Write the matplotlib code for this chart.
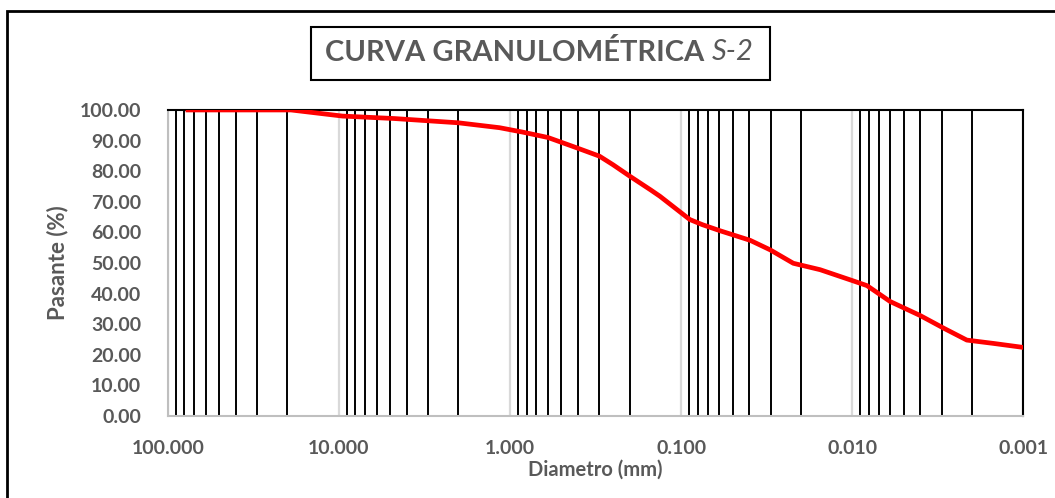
import numpy as np
import matplotlib
matplotlib.use("Agg")
import matplotlib.pyplot as plt
from matplotlib.ticker import FixedLocator, FuncFormatter, NullFormatter
from matplotlib.patches import Rectangle

# -----------------------------
# Data
# -----------------------------
diametro = [76.2, 50.8, 38.1, 25.4, 19.05, 9.525, 4.75, 2.0, 1.15, 0.85,
            0.6, 0.425, 0.3, 0.25, 0.2, 0.15, 0.133, 0.089, 0.075, 0.059,
            0.0395, 0.0302, 0.0221, 0.0154, 0.0103, 0.0082, 0.006, 0.004,
            0.0029, 0.00214, 0.00149, 0.001]
pasante = [100, 100, 100, 100, 100, 98.0, 97.2, 95.8, 94.2, 92.8,
           91.0, 88.0, 84.9, 82.1, 78.4, 73.8, 71.8, 64.2, 62.5, 60.5,
           57.4, 54.3, 49.9, 47.8, 44.5, 42.6, 37.4, 32.8,
           28.6, 24.8, 23.7, 22.4]

x_ticks = [100, 10, 1, 0.1, 0.01, 0.001]
y_ticks = [0, 10, 20, 30, 40, 50, 60, 70, 80, 90, 100]

gray = "#595959"
plt.rcParams["font.family"] = ["Lato", "DejaVu Sans"]

fig = plt.figure(figsize=(10.55, 4.98), dpi=100)
ax = fig.add_axes([0.159, 0.1647, 0.811, 0.6145])

# minor (black) and major (light gray) vertical grid lines
minor = [m * 10.0 ** e for e in range(-3, 2) for m in range(2, 10)]
ax.set_xscale("log")
ax.xaxis.set_major_locator(FixedLocator(x_ticks))
ax.xaxis.set_minor_locator(FixedLocator(minor))
ax.xaxis.set_minor_formatter(NullFormatter())
ax.xaxis.set_major_formatter(FuncFormatter(lambda v, p: f"{v:.3f}"))
ax.grid(which="minor", axis="x", color="black", lw=1.4)
ax.grid(which="major", axis="x", color="#d9d9d9", lw=1.6)
ax.set_axisbelow(True)

ax.plot(diametro, pasante, color="#ff0000", lw=3.4, solid_joinstyle="round", zorder=3)

ax.set_xlim(100, 0.001)
ax.set_ylim(0, 100)
ax.set_yticks(y_ticks)
ax.yaxis.set_major_formatter(FuncFormatter(lambda v, p: f"{v:.2f}"))
ax.tick_params(which="both", length=0, labelcolor=gray, labelsize=14)
ax.tick_params(axis="x", pad=17)
ax.tick_params(axis="y", pad=19)
for lab in ax.get_xticklabels() + ax.get_yticklabels():
    lab.set_fontweight("bold")

for s in ["left", "bottom"]:
    ax.spines[s].set_color("#bfbfbf")
    ax.spines[s].set_linewidth(1.5)
for s in ["top", "right"]:
    ax.spines[s].set_color("black")
    ax.spines[s].set_linewidth(1.5)

ax.set_xlabel("Diametro (mm)", fontsize=14.5, fontweight="bold", color=gray, labelpad=2)
ax.set_ylabel("Pasante (%)", fontsize=16, fontweight="bold", color=gray, labelpad=8)

# title in a box: bold part, then italic "S-2" right after it
t1 = fig.text(325 / 1055, 1 - 52.5 / 498, "CURVA GRANULOMÉTRICA ", fontsize=21,
              fontweight="bold", color=gray, ha="left", va="center")
fig.canvas.draw()
bb = t1.get_window_extent()
fig.text(bb.x1 / 1055, 1 - 52.5 / 498, "S-2", fontsize=21, style="italic",
         color=gray, ha="left", va="center")
fig.patches.append(Rectangle((311 / 1055, 1 - 80 / 498), (770 - 311) / 1055, 53 / 498,
                             transform=fig.transFigure, fill=False, ec="black", lw=1.5))

# outer chart border (right and bottom fall outside the picture)
fig.patches.append(Rectangle((7.3 / 1055, -0.1), 1.2, 1 - 11.3 / 498 + 0.1,
                             transform=fig.transFigure, fill=False, ec="black", lw=2))

fig.savefig("out.png", dpi=100)
